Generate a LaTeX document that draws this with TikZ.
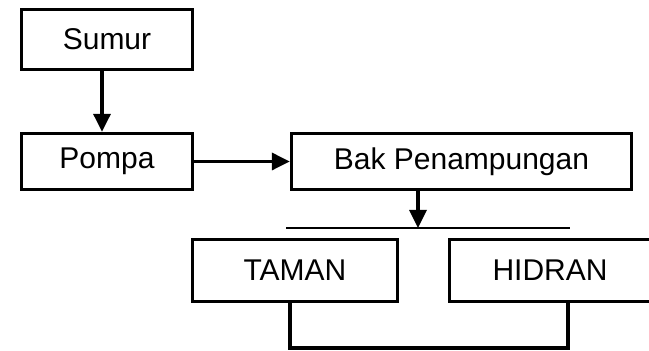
\documentclass[tikz,border=0pt]{standalone}
\usepackage{fontspec}
\setmainfont{Liberation Sans}
\usetikzlibrary{arrows.meta}

\begin{document}
\begin{tikzpicture}[x=0.5pt, y=-0.5pt, line width=1.7pt,
        kotak/.style={draw, inner sep=0pt, font=\fontsize{15}{18}\selectfont},
        panah/.style={-{Triangle[length=9pt, width=8.5pt]}}]
                \useasboundingbox (0,0) rectangle (649,351);

                \node[kotak, minimum width=85.5pt, minimum height=30pt] (sumur) at (107,39.5) {Sumur};
                \node[kotak, minimum width=85.5pt, minimum height=28pt] (pompa) at (107,161.5) {Pompa};
                \node[kotak, minimum width=170pt, minimum height=28pt] (bak) at (461.5,161.5) {Bak Penampungan};
                \node[kotak, minimum width=102.5pt, minimum height=31pt] (taman) at (295,270.5) {TAMAN};
                \node[kotak, minimum width=100.5pt, minimum height=31pt] (hidran) at (550,270.5) {HIDRAN};

                \coordinate (cabang) at (418,228);
                \coordinate (kiri) at (286,228);
                \coordinate (kanan) at (570,228);

                \draw[panah] ([xshift=-2.5pt]sumur.south) -- ([xshift=-2.5pt]pompa.north);
                \draw[panah] (pompa.east) -- (bak.west);
                \draw[panah] (bak.south -| cabang) -- (cabang);
                \draw[line width=1.4pt] (kiri) -- (kanan);
                \draw ([xshift=-2.5pt]taman.south) -- ++(0,45) -| ([xshift=9pt]hidran.south);
                %\draw (taman.east) -- (hidran.west);
\end{tikzpicture}
\end{document}
